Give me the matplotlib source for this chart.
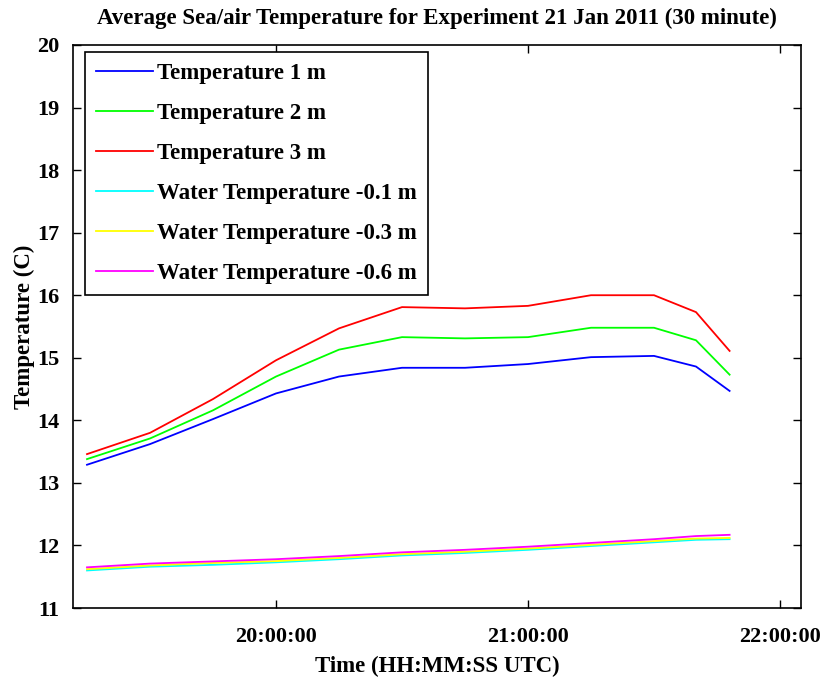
import matplotlib
matplotlib.use('Agg')
import matplotlib.pyplot as plt
import matplotlib.dates as mdates
import pandas as pd

# Promedios de 30 minutos, 21 Ene 2011 (hora UTC)
horas = ['19:15', '19:30', '19:45', '20:00', '20:15', '20:30', '20:45',
         '21:00', '21:15', '21:30', '21:40', '21:48']
temp_1m = [13.29, 13.62, 14.02, 14.43, 14.70, 14.84, 14.84,
           14.90, 15.01, 15.03, 14.86, 14.47]
temp_2m = [13.38, 13.71, 14.16, 14.70, 15.13, 15.33, 15.31,
           15.33, 15.48, 15.48, 15.28, 14.73]
temp_3m = [13.46, 13.80, 14.34, 14.96, 15.47, 15.81, 15.79,
           15.83, 16.00, 16.00, 15.73, 15.11]
agua_01 = [11.60, 11.66, 11.69, 11.73, 11.78, 11.84, 11.88,
           11.93, 11.99, 12.05, 12.09, 12.10]
agua_03 = [11.62, 11.68, 11.72, 11.75, 11.80, 11.86, 11.90,
           11.95, 12.01, 12.07, 12.11, 12.12]
agua_06 = [11.65, 11.71, 11.745, 11.78, 11.83, 11.89, 11.93,
           11.98, 12.04, 12.10, 12.15, 12.17]

tiempo = pd.to_datetime('2011-01-21 ' + pd.Series(horas))

plt.rcParams['font.family'] = 'Liberation Serif'
plt.rcParams['font.weight'] = 'bold'
plt.rcParams['axes.titleweight'] = 'bold'
plt.rcParams['axes.labelweight'] = 'bold'
plt.rcParams['font.size'] = 16

fig = plt.figure(figsize=(8.24, 6.81), dpi=100)
ax = fig.add_axes([73 / 824, 1 - 608 / 681, 728 / 824, 563 / 681])

series = [(temp_1m, '#0000ff', 'Temperature 1 m'),
          (temp_2m, '#00ff00', 'Temperature 2 m'),
          (temp_3m, '#ff0000', 'Temperature 3 m'),
          (agua_01, '#00ffff', 'Water Temperature -0.1 m'),
          (agua_03, '#ffff00', 'Water Temperature -0.3 m'),
          (agua_06, '#ff00ff', 'Water Temperature -0.6 m')]
for valores, color, etiqueta in series:
    ax.plot(tiempo, valores, color=color, lw=1.3, label=etiqueta)

ax.set_xlim(pd.Timestamp('2011-01-21 19:11:40'), pd.Timestamp('2011-01-21 22:05:00'))
ax.set_ylim(11, 20)
ax.set_yticks(range(11, 21))
ax.xaxis.set_major_locator(mdates.HourLocator())
ax.xaxis.set_major_formatter(mdates.DateFormatter('%H:%M:%S'))
ax.tick_params(axis='x', direction='in', top=True, length=6, width=1, pad=14)
ax.tick_params(axis='y', direction='in', right=True, length=6, width=1, pad=10)
for s in ax.spines.values():
    s.set_linewidth(1.2)

ax.set_title('Average Sea/air Temperature for Experiment 21 Jan 2011 (30 minute)',
             fontsize=16.5, pad=15)
ax.set_xlabel('Time (HH:MM:SS UTC)', fontsize=16.5, labelpad=6)
ax.set_ylabel('Temperature (C)', fontsize=16.5, labelpad=1)

leg = ax.legend(loc='upper left', bbox_to_anchor=(12 / 728, 1 - 7 / 563),
                borderaxespad=0, fancybox=False, framealpha=1, edgecolor='black',
                fontsize=16.5, handlelength=2.45, handletextpad=0.2,
                labelspacing=0.82, borderpad=0.5)
leg.get_frame().set_linewidth(1.2)

fig.savefig('out.png', dpi=100)
